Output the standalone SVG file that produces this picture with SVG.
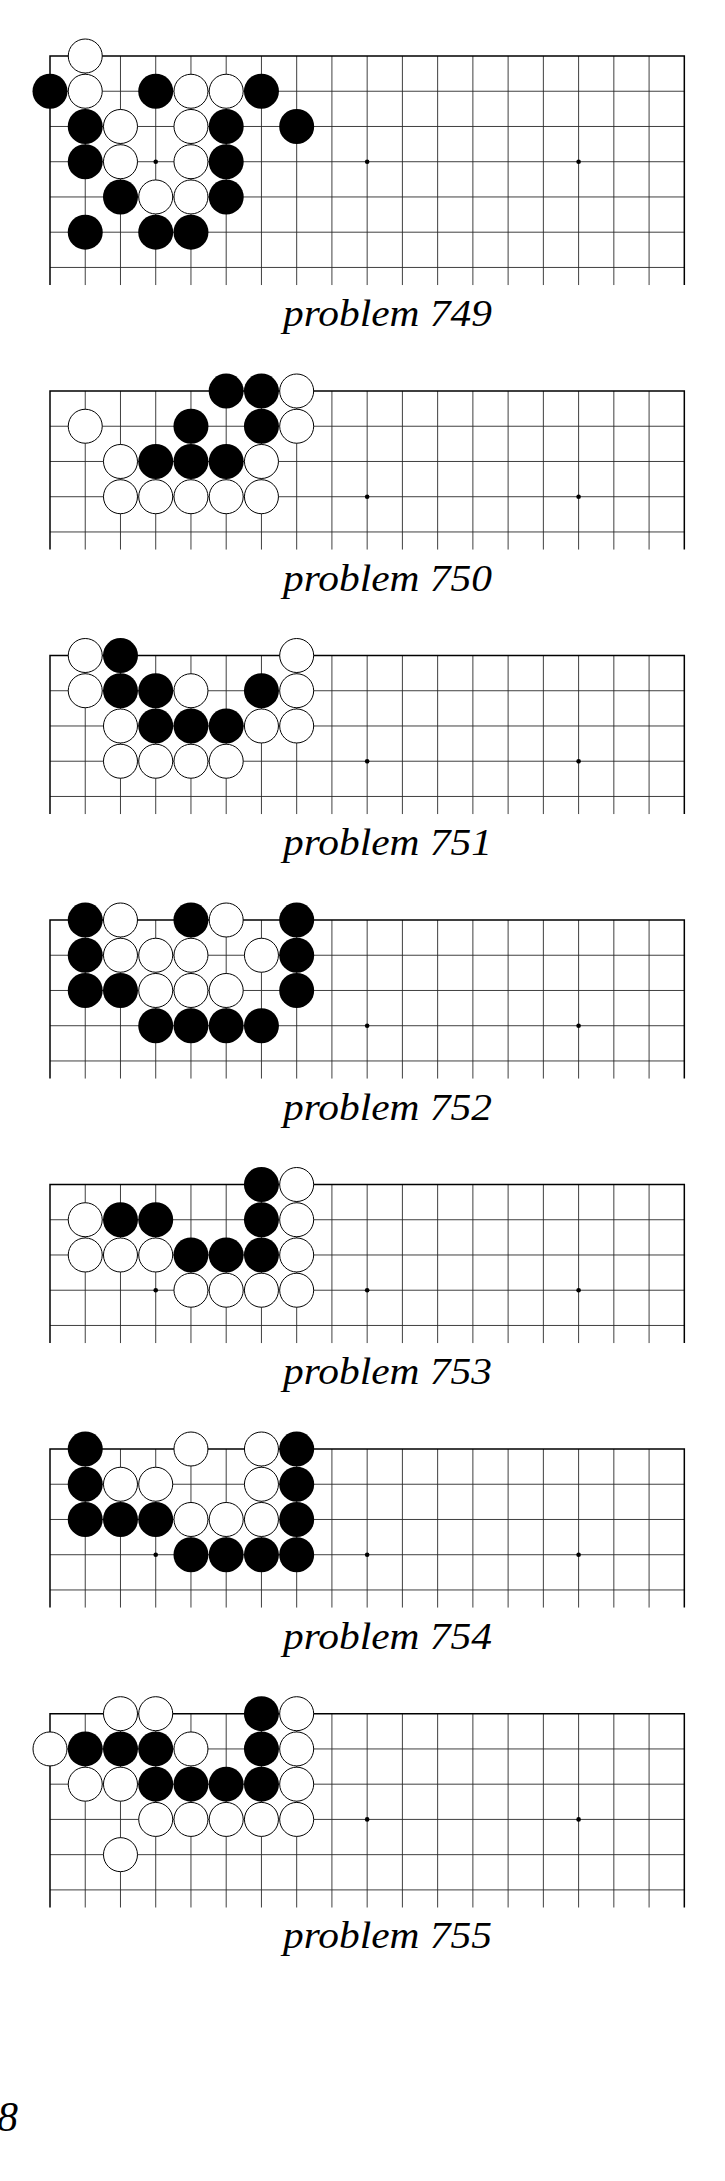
<svg xmlns="http://www.w3.org/2000/svg" xmlns:xlink="http://www.w3.org/1999/xlink" width="725" height="2181" viewBox="0 0 725 2181">
<style>
.bg{fill:#fff}
.grid{fill:none;stroke:#2a2a2a;stroke-width:0.9}
.edge{fill:none;stroke:#000;stroke-width:1.5}
.star{fill:#000}
.b{fill:#000}
.w{fill:#fff;stroke:#000;stroke-width:1}
.cap{font-family:"Liberation Serif","Times New Roman",serif;font-style:italic;font-size:37px;fill:#000}
.pg{font-family:"Liberation Serif","Times New Roman",serif;font-style:italic;font-size:42px;fill:#000}
</style>
<defs>
<path id="v5" d="M85.24 0V158.56M120.48 0V158.56M155.72 0V158.56M190.96 0V158.56M226.2 0V158.56M261.44 0V158.56M296.68 0V158.56M331.92 0V158.56M367.16 0V158.56M402.4 0V158.56M437.64 0V158.56M472.88 0V158.56M508.12 0V158.56M543.36 0V158.56M578.6 0V158.56M613.84 0V158.56M649.08 0V158.56"/>
<path id="h5" d="M50 35.24H684.32M50 70.48H684.32M50 105.72H684.32M50 140.96H684.32"/>
<path id="e5" d="M50 158.56V0H684.32V158.56"/>
<path id="v6" d="M85.24 0V193.8M120.48 0V193.8M155.72 0V193.8M190.96 0V193.8M226.2 0V193.8M261.44 0V193.8M296.68 0V193.8M331.92 0V193.8M367.16 0V193.8M402.4 0V193.8M437.64 0V193.8M472.88 0V193.8M508.12 0V193.8M543.36 0V193.8M578.6 0V193.8M613.84 0V193.8M649.08 0V193.8"/>
<path id="h6" d="M50 35.24H684.32M50 70.48H684.32M50 105.72H684.32M50 140.96H684.32M50 176.2H684.32"/>
<path id="e6" d="M50 193.8V0H684.32V193.8"/>
<path id="v7" d="M85.24 0V229.04M120.48 0V229.04M155.72 0V229.04M190.96 0V229.04M226.2 0V229.04M261.44 0V229.04M296.68 0V229.04M331.92 0V229.04M367.16 0V229.04M402.4 0V229.04M437.64 0V229.04M472.88 0V229.04M508.12 0V229.04M543.36 0V229.04M578.6 0V229.04M613.84 0V229.04M649.08 0V229.04"/>
<path id="h7" d="M50 35.24H684.32M50 70.48H684.32M50 105.72H684.32M50 140.96H684.32M50 176.2H684.32M50 211.44H684.32"/>
<path id="e7" d="M50 229.04V0H684.32V229.04"/>
<g id="stars">
<circle cx="155.72" cy="105.72" r="2.3"/>
<circle cx="367.16" cy="105.72" r="2.3"/>
<circle cx="578.6" cy="105.72" r="2.3"/>
</g>
</defs>
<rect class="bg" x="0" y="0" width="725" height="2181"/>

<g id="problem749" transform="translate(0,56)">
<use xlink:href="#v7" class="grid"/><use xlink:href="#h7" class="grid"/><use xlink:href="#e7" class="edge"/>
<use xlink:href="#stars" class="star"/>
<circle class="w" cx="85.24" cy="0" r="17"/>
<circle class="b" cx="50" cy="35.24" r="17.5"/>
<circle class="w" cx="85.24" cy="35.24" r="17"/>
<circle class="b" cx="155.72" cy="35.24" r="17.5"/>
<circle class="w" cx="190.96" cy="35.24" r="17"/>
<circle class="w" cx="226.2" cy="35.24" r="17"/>
<circle class="b" cx="261.44" cy="35.24" r="17.5"/>
<circle class="b" cx="85.24" cy="70.48" r="17.5"/>
<circle class="w" cx="120.48" cy="70.48" r="17"/>
<circle class="w" cx="190.96" cy="70.48" r="17"/>
<circle class="b" cx="226.2" cy="70.48" r="17.5"/>
<circle class="b" cx="296.68" cy="70.48" r="17.5"/>
<circle class="b" cx="85.24" cy="105.72" r="17.5"/>
<circle class="w" cx="120.48" cy="105.72" r="17"/>
<circle class="w" cx="190.96" cy="105.72" r="17"/>
<circle class="b" cx="226.2" cy="105.72" r="17.5"/>
<circle class="b" cx="120.48" cy="140.96" r="17.5"/>
<circle class="w" cx="155.72" cy="140.96" r="17"/>
<circle class="w" cx="190.96" cy="140.96" r="17"/>
<circle class="b" cx="226.2" cy="140.96" r="17.5"/>
<circle class="b" cx="85.24" cy="176.2" r="17.5"/>
<circle class="b" cx="155.72" cy="176.2" r="17.5"/>
<circle class="b" cx="190.96" cy="176.2" r="17.5"/>
<text class="cap" x="283" y="270" textLength="209" lengthAdjust="spacingAndGlyphs">problem 749</text>
</g>

<g id="problem750" transform="translate(0,391)">
<use xlink:href="#v5" class="grid"/><use xlink:href="#h5" class="grid"/><use xlink:href="#e5" class="edge"/>
<use xlink:href="#stars" class="star"/>
<circle class="b" cx="226.2" cy="0" r="17.5"/>
<circle class="b" cx="261.44" cy="0" r="17.5"/>
<circle class="w" cx="296.68" cy="0" r="17"/>
<circle class="w" cx="85.24" cy="35.24" r="17"/>
<circle class="b" cx="190.96" cy="35.24" r="17.5"/>
<circle class="b" cx="261.44" cy="35.24" r="17.5"/>
<circle class="w" cx="296.68" cy="35.24" r="17"/>
<circle class="w" cx="120.48" cy="70.48" r="17"/>
<circle class="b" cx="155.72" cy="70.48" r="17.5"/>
<circle class="b" cx="190.96" cy="70.48" r="17.5"/>
<circle class="b" cx="226.2" cy="70.48" r="17.5"/>
<circle class="w" cx="261.44" cy="70.48" r="17"/>
<circle class="w" cx="120.48" cy="105.72" r="17"/>
<circle class="w" cx="155.72" cy="105.72" r="17"/>
<circle class="w" cx="190.96" cy="105.72" r="17"/>
<circle class="w" cx="226.2" cy="105.72" r="17"/>
<circle class="w" cx="261.44" cy="105.72" r="17"/>
<text class="cap" x="283" y="199.6" textLength="209" lengthAdjust="spacingAndGlyphs">problem 750</text>
</g>

<g id="problem751" transform="translate(0,655.5)">
<use xlink:href="#v5" class="grid"/><use xlink:href="#h5" class="grid"/><use xlink:href="#e5" class="edge"/>
<use xlink:href="#stars" class="star"/>
<circle class="w" cx="85.24" cy="0" r="17"/>
<circle class="b" cx="120.48" cy="0" r="17.5"/>
<circle class="w" cx="296.68" cy="0" r="17"/>
<circle class="w" cx="85.24" cy="35.24" r="17"/>
<circle class="b" cx="120.48" cy="35.24" r="17.5"/>
<circle class="b" cx="155.72" cy="35.24" r="17.5"/>
<circle class="w" cx="190.96" cy="35.24" r="17"/>
<circle class="b" cx="261.44" cy="35.24" r="17.5"/>
<circle class="w" cx="296.68" cy="35.24" r="17"/>
<circle class="w" cx="120.48" cy="70.48" r="17"/>
<circle class="b" cx="155.72" cy="70.48" r="17.5"/>
<circle class="b" cx="190.96" cy="70.48" r="17.5"/>
<circle class="b" cx="226.2" cy="70.48" r="17.5"/>
<circle class="w" cx="261.44" cy="70.48" r="17"/>
<circle class="w" cx="296.68" cy="70.48" r="17"/>
<circle class="w" cx="120.48" cy="105.72" r="17"/>
<circle class="w" cx="155.72" cy="105.72" r="17"/>
<circle class="w" cx="190.96" cy="105.72" r="17"/>
<circle class="w" cx="226.2" cy="105.72" r="17"/>
<text class="cap" x="283" y="199.6" textLength="209" lengthAdjust="spacingAndGlyphs">problem 751</text>
</g>

<g id="problem752" transform="translate(0,920)">
<use xlink:href="#v5" class="grid"/><use xlink:href="#h5" class="grid"/><use xlink:href="#e5" class="edge"/>
<use xlink:href="#stars" class="star"/>
<circle class="b" cx="85.24" cy="0" r="17.5"/>
<circle class="w" cx="120.48" cy="0" r="17"/>
<circle class="b" cx="190.96" cy="0" r="17.5"/>
<circle class="w" cx="226.2" cy="0" r="17"/>
<circle class="b" cx="296.68" cy="0" r="17.5"/>
<circle class="b" cx="85.24" cy="35.24" r="17.5"/>
<circle class="w" cx="120.48" cy="35.24" r="17"/>
<circle class="w" cx="155.72" cy="35.24" r="17"/>
<circle class="w" cx="190.96" cy="35.24" r="17"/>
<circle class="w" cx="261.44" cy="35.24" r="17"/>
<circle class="b" cx="296.68" cy="35.24" r="17.5"/>
<circle class="b" cx="85.24" cy="70.48" r="17.5"/>
<circle class="b" cx="120.48" cy="70.48" r="17.5"/>
<circle class="w" cx="155.72" cy="70.48" r="17"/>
<circle class="w" cx="190.96" cy="70.48" r="17"/>
<circle class="w" cx="226.2" cy="70.48" r="17"/>
<circle class="b" cx="296.68" cy="70.48" r="17.5"/>
<circle class="b" cx="155.72" cy="105.72" r="17.5"/>
<circle class="b" cx="190.96" cy="105.72" r="17.5"/>
<circle class="b" cx="226.2" cy="105.72" r="17.5"/>
<circle class="b" cx="261.44" cy="105.72" r="17.5"/>
<text class="cap" x="283" y="199.6" textLength="209" lengthAdjust="spacingAndGlyphs">problem 752</text>
</g>

<g id="problem753" transform="translate(0,1184.5)">
<use xlink:href="#v5" class="grid"/><use xlink:href="#h5" class="grid"/><use xlink:href="#e5" class="edge"/>
<use xlink:href="#stars" class="star"/>
<circle class="b" cx="261.44" cy="0" r="17.5"/>
<circle class="w" cx="296.68" cy="0" r="17"/>
<circle class="w" cx="85.24" cy="35.24" r="17"/>
<circle class="b" cx="120.48" cy="35.24" r="17.5"/>
<circle class="b" cx="155.72" cy="35.24" r="17.5"/>
<circle class="b" cx="261.44" cy="35.24" r="17.5"/>
<circle class="w" cx="296.68" cy="35.24" r="17"/>
<circle class="w" cx="85.24" cy="70.48" r="17"/>
<circle class="w" cx="120.48" cy="70.48" r="17"/>
<circle class="w" cx="155.72" cy="70.48" r="17"/>
<circle class="b" cx="190.96" cy="70.48" r="17.5"/>
<circle class="b" cx="226.2" cy="70.48" r="17.5"/>
<circle class="b" cx="261.44" cy="70.48" r="17.5"/>
<circle class="w" cx="296.68" cy="70.48" r="17"/>
<circle class="w" cx="190.96" cy="105.72" r="17"/>
<circle class="w" cx="226.2" cy="105.72" r="17"/>
<circle class="w" cx="261.44" cy="105.72" r="17"/>
<circle class="w" cx="296.68" cy="105.72" r="17"/>
<text class="cap" x="283" y="199.6" textLength="209" lengthAdjust="spacingAndGlyphs">problem 753</text>
</g>

<g id="problem754" transform="translate(0,1449)">
<use xlink:href="#v5" class="grid"/><use xlink:href="#h5" class="grid"/><use xlink:href="#e5" class="edge"/>
<use xlink:href="#stars" class="star"/>
<circle class="b" cx="85.24" cy="0" r="17.5"/>
<circle class="w" cx="190.96" cy="0" r="17"/>
<circle class="w" cx="261.44" cy="0" r="17"/>
<circle class="b" cx="296.68" cy="0" r="17.5"/>
<circle class="b" cx="85.24" cy="35.24" r="17.5"/>
<circle class="w" cx="120.48" cy="35.24" r="17"/>
<circle class="w" cx="155.72" cy="35.24" r="17"/>
<circle class="w" cx="261.44" cy="35.24" r="17"/>
<circle class="b" cx="296.68" cy="35.24" r="17.5"/>
<circle class="b" cx="85.24" cy="70.48" r="17.5"/>
<circle class="b" cx="120.48" cy="70.48" r="17.5"/>
<circle class="b" cx="155.72" cy="70.48" r="17.5"/>
<circle class="w" cx="190.96" cy="70.48" r="17"/>
<circle class="w" cx="226.2" cy="70.48" r="17"/>
<circle class="w" cx="261.44" cy="70.48" r="17"/>
<circle class="b" cx="296.68" cy="70.48" r="17.5"/>
<circle class="b" cx="190.96" cy="105.72" r="17.5"/>
<circle class="b" cx="226.2" cy="105.72" r="17.5"/>
<circle class="b" cx="261.44" cy="105.72" r="17.5"/>
<circle class="b" cx="296.68" cy="105.72" r="17.5"/>
<text class="cap" x="283" y="199.6" textLength="209" lengthAdjust="spacingAndGlyphs">problem 754</text>
</g>

<g id="problem755" transform="translate(0,1713.7)">
<use xlink:href="#v6" class="grid"/><use xlink:href="#h6" class="grid"/><use xlink:href="#e6" class="edge"/>
<use xlink:href="#stars" class="star"/>
<circle class="w" cx="120.48" cy="0" r="17"/>
<circle class="w" cx="155.72" cy="0" r="17"/>
<circle class="b" cx="261.44" cy="0" r="17.5"/>
<circle class="w" cx="296.68" cy="0" r="17"/>
<circle class="w" cx="50" cy="35.24" r="17"/>
<circle class="b" cx="85.24" cy="35.24" r="17.5"/>
<circle class="b" cx="120.48" cy="35.24" r="17.5"/>
<circle class="b" cx="155.72" cy="35.24" r="17.5"/>
<circle class="w" cx="190.96" cy="35.24" r="17"/>
<circle class="b" cx="261.44" cy="35.24" r="17.5"/>
<circle class="w" cx="296.68" cy="35.24" r="17"/>
<circle class="w" cx="85.24" cy="70.48" r="17"/>
<circle class="w" cx="120.48" cy="70.48" r="17"/>
<circle class="b" cx="155.72" cy="70.48" r="17.5"/>
<circle class="b" cx="190.96" cy="70.48" r="17.5"/>
<circle class="b" cx="226.2" cy="70.48" r="17.5"/>
<circle class="b" cx="261.44" cy="70.48" r="17.5"/>
<circle class="w" cx="296.68" cy="70.48" r="17"/>
<circle class="w" cx="155.72" cy="105.72" r="17"/>
<circle class="w" cx="190.96" cy="105.72" r="17"/>
<circle class="w" cx="226.2" cy="105.72" r="17"/>
<circle class="w" cx="261.44" cy="105.72" r="17"/>
<circle class="w" cx="296.68" cy="105.72" r="17"/>
<circle class="w" cx="120.48" cy="140.96" r="17"/>
<text class="cap" x="283" y="234.8" textLength="209" lengthAdjust="spacingAndGlyphs">problem 755</text>
</g>

<text id="page-number" class="pg" x="-3" y="2131">8</text>
</svg>
